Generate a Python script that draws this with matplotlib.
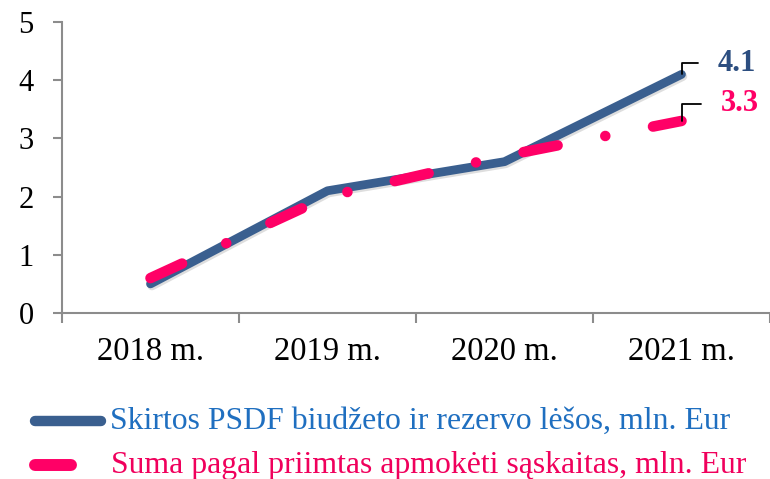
import matplotlib
matplotlib.use("Agg")
import matplotlib.pyplot as plt
import matplotlib.patheffects as pe
from matplotlib.lines import Line2D

plt.rcParams['font.family'] = ['Liberation Serif', 'DejaVu Serif']
plt.rcParams['lines.scale_dashes'] = False

# Data
years = ["2018 m.", "2019 m.", "2020 m.", "2021 m."]
allocated = [0.5, 2.1, 2.6, 4.1]      # Skirtos PSDF biudžeto ir rezervo lėšos
invoiced = [0.6, 2.0, 2.7, 3.3]       # Suma pagal priimtas apmokėti sąskaitas
y_ticks = [0, 1, 2, 3, 4, 5]
series_labels = ["Skirtos PSDF biudžeto ir rezervo lėšos, mln. Eur",
                 "Suma pagal priimtas apmokėti sąskaitas, mln. Eur"]

W, H = 770, 479
fig = plt.figure(figsize=(W / 100, H / 100), dpi=100)
ax = fig.add_axes([62 / W, (H - 313) / H, 708 / W, (313 - 22) / H])

BLUE = "#3A5F8F"
BLUE_TXT = "#2C4E80"
PINK = "#FF0066"
AXIS_GRAY = "#8C8C8C"

x = list(range(len(years)))

ax.plot(x, allocated, color=BLUE, lw=6.3, solid_capstyle='round',
        solid_joinstyle='round', zorder=2,
        path_effects=[pe.SimpleLineShadow(offset=(1, -1.5), shadow_color='black', alpha=0.13),
                      pe.Normal()])
ax.plot(x, invoiced, color=PINK, lw=7.6, dash_capstyle='round',
        dashes=(25, 35, 0.01, 35), zorder=3)

ax.set_xlim(-0.5, 3.455)
ax.set_ylim(0, 5)

for s in ['top', 'right']:
    ax.spines[s].set_visible(False)
for s in ['left', 'bottom']:
    ax.spines[s].set_color(AXIS_GRAY)
    ax.spines[s].set_linewidth(1.5)

ax.set_yticks(y_ticks)
ax.set_yticklabels([str(v) for v in y_ticks])
ax.tick_params(axis='y', length=6.5, width=1.5, color=AXIS_GRAY, pad=14,
               labelsize=22, labelcolor='black')

ax.set_xticks([i - 0.5 for i in range(len(years) + 1)])
ax.set_xticklabels([])
ax.tick_params(axis='x', which='major', length=7, width=1.5, color=AXIS_GRAY)
ax.set_xticks(x, minor=True)
ax.set_xticklabels(years, minor=True)
ax.tick_params(axis='x', which='minor', length=0, pad=17, labelsize=23.5,
               labelcolor='black')

# End-value labels with leader lines
for vals, col, off in [(allocated, BLUE_TXT, (25.9, 8)), (invoiced, PINK, (28, 12.4))]:
    ax.annotate(f"{vals[-1]:.1f}", xy=(x[-1], vals[-1]), xytext=off,
                textcoords='offset points', ha='left', va='center',
                fontsize=22, fontweight='bold', color=col,
                arrowprops=dict(arrowstyle='-', color='black', lw=1.3,
                                connectionstyle='angle,angleA=0,angleB=90,rad=0',
                                relpos=(0, 0.5), shrinkA=12, shrinkB=0),
                zorder=5)

# Legend drawn in figure pixel coordinates
def fx(px):
    return px / W

def fy(py):
    return 1 - py / H

fig.add_artist(Line2D([fx(35), fx(101)], [fy(421), fy(421)], color=BLUE, lw=7.5,
                      solid_capstyle='round', transform=fig.transFigure))
fig.add_artist(Line2D([fx(35), fx(71)], [fy(465), fy(465)], color=PINK, lw=8.6,
                      solid_capstyle='round', transform=fig.transFigure))
fig.text(fx(110), fy(421), series_labels[0], color="#1F6FC0", fontsize=22.9,
         ha='left', va='center')
fig.text(fx(111), fy(465), series_labels[1], color="#F0005C", fontsize=22.9,
         ha='left', va='center')

fig.savefig("out.png", dpi=100)
